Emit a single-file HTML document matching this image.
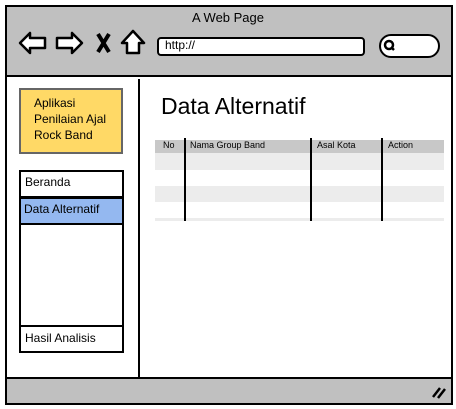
<!DOCTYPE html>
<html><head><style>
*{margin:0;padding:0;box-sizing:border-box}
body{width:456px;height:409px;background:#fff;position:relative;overflow:hidden;font-family:"Liberation Sans",sans-serif;color:#000}
.a{position:absolute}
</style></head><body>
<div class="a" style="left:5px;top:5px;width:448px;height:400px;border:2px solid #000;background:#fff"></div>
<div class="a" style="left:7px;top:7px;width:444px;height:70px;background:#c0c0c0;border-bottom:2px solid #000"></div>
<div class="a" style="left:7px;top:377px;width:444px;height:26px;background:#c0c0c0;border-top:2px solid #000"></div>
<div class="a" style="left:0;top:10px;width:456px;text-align:center;font-size:13px">A Web Page</div>
<svg class="a" style="left:0;top:0" width="456" height="409">
<g fill="#fff" stroke="#000" stroke-width="2.5" stroke-linejoin="round">
<polygon points="20,43 30,33 30,38 45,38 45,48 30,48 30,53"/>
<polygon points="82,43 72,33 72,38 57,38 57,48 72,48 72,53"/>
<polygon points="133,31 144,43 139,43 139,53 127,53 127,43 122,43"/>
</g>
<path d="M98,34 L109,52 M109,34 L98,52" stroke="#000" stroke-width="4"/>
<rect x="158" y="38" width="206" height="17" rx="3" fill="#fff" stroke="#000" stroke-width="2"/>
<rect x="380" y="35" width="59" height="22" rx="11" fill="#fff" stroke="#000" stroke-width="2"/>
<circle cx="389" cy="45" r="4" fill="none" stroke="#000" stroke-width="2.5"/>
<path d="M391,47 L394,50" stroke="#000" stroke-width="2.5"/>
<line x1="139" y1="79" x2="139" y2="377" stroke="#000" stroke-width="2"/>
<path d="M433,397 L440,388 M438,398 L445,389" stroke="#000" stroke-width="2.5"/>
</svg>
<div class="a" style="left:165px;top:38px;font-size:12px">http://</div>
<div class="a" style="left:19px;top:88px;width:104px;height:66px;background:#ffd966;border:2px solid #666;padding:5px 0 0 13px;font-size:12px;line-height:16px">Aplikasi<br>Penilaian Ajal<br>Rock Band</div>
<div class="a" style="left:19px;top:170px;width:105px;height:183px;border:2px solid #000;background:#fff"></div>
<div class="a" style="left:21px;top:196px;width:101px;height:2px;background:#000"></div>
<div class="a" style="left:19px;top:197px;width:105px;height:28px;background:#94b8f0;border:2px solid #000"></div>
<div class="a" style="left:21px;top:325px;width:101px;height:2px;background:#000"></div>
<div class="a" style="left:25px;top:175px;font-size:12px">Beranda</div>
<div class="a" style="left:24px;top:202px;font-size:12px">Data Alternatif</div>
<div class="a" style="left:25px;top:331px;font-size:12px">Hasil Analisis</div>
<div class="a" style="left:161px;top:93px;font-size:23px">Data Alternatif</div>
<div class="a" style="left:155px;top:140px;width:289px;height:13px;background:#c8c8c8"></div>
<div class="a" style="left:155px;top:153px;width:289px;height:17px;background:#ececec"></div>
<div class="a" style="left:155px;top:186px;width:289px;height:16px;background:#ececec"></div>
<div class="a" style="left:155px;top:218px;width:289px;height:3px;background:#ececec"></div>
<div class="a" style="left:184px;top:138px;width:2px;height:83px;background:#000"></div>
<div class="a" style="left:310px;top:138px;width:2px;height:83px;background:#000"></div>
<div class="a" style="left:381px;top:138px;width:2px;height:83px;background:#000"></div>
<div class="a" style="left:163px;top:140px;font-size:9px">No</div>
<div class="a" style="left:190px;top:140px;font-size:9px">Nama Group Band</div>
<div class="a" style="left:317px;top:140px;font-size:9px">Asal Kota</div>
<div class="a" style="left:388px;top:140px;font-size:9px">Action</div>
</body></html>
